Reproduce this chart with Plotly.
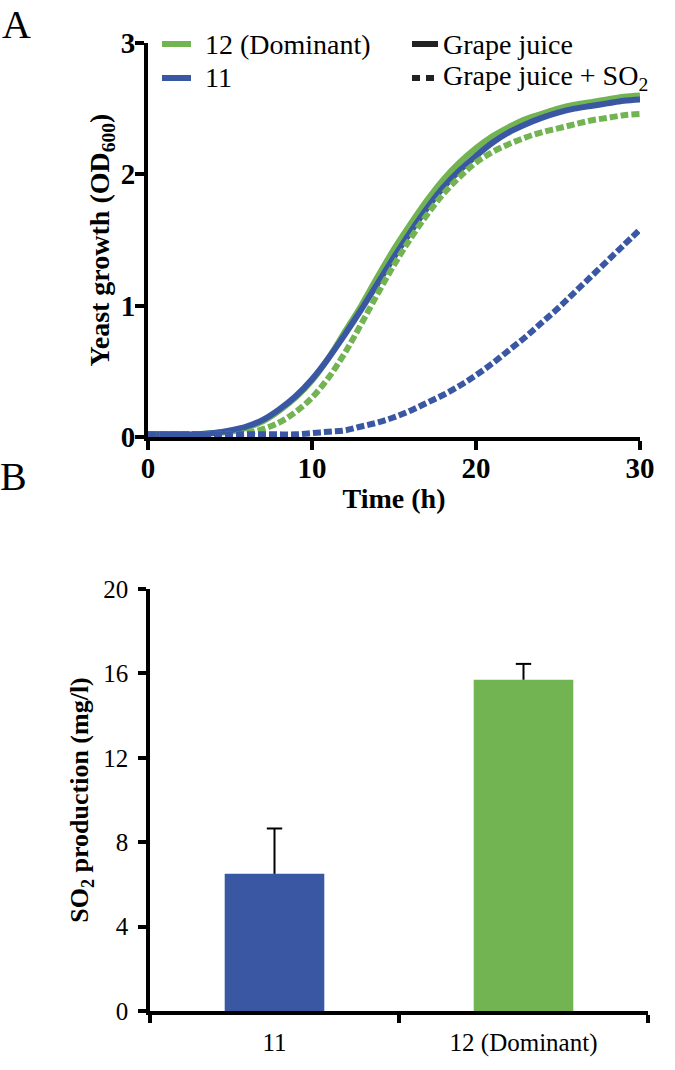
import plotly.graph_objects as go

# ---------------- data ----------------
time_h = list(range(0, 31))
od_12_gj = [0.02, 0.02, 0.02, 0.02, 0.03, 0.04, 0.07, 0.12, 0.20, 0.30, 0.43, 0.60, 0.80, 1.00, 1.22, 1.43,
            1.62, 1.80, 1.96, 2.09, 2.20, 2.29, 2.36, 2.42, 2.46, 2.50, 2.53, 2.55, 2.57, 2.59, 2.60]
od_11_gj = [0.02, 0.02, 0.02, 0.02, 0.03, 0.05, 0.08, 0.13, 0.21, 0.31, 0.44, 0.60, 0.78, 0.97, 1.17, 1.37,
            1.56, 1.74, 1.90, 2.03, 2.14, 2.24, 2.32, 2.38, 2.43, 2.47, 2.50, 2.52, 2.54, 2.56, 2.57]
od_12_so2 = [0.02, 0.02, 0.02, 0.02, 0.02, 0.02, 0.03, 0.06, 0.11, 0.19, 0.30, 0.45, 0.64, 0.86, 1.09, 1.31,
             1.51, 1.69, 1.85, 1.98, 2.09, 2.17, 2.23, 2.28, 2.32, 2.35, 2.38, 2.41, 2.43, 2.45, 2.46]
od_11_so2 = [0.02, 0.02, 0.02, 0.02, 0.02, 0.02, 0.02, 0.02, 0.02, 0.02, 0.03, 0.04, 0.05, 0.08, 0.11, 0.15,
             0.20, 0.26, 0.32, 0.39, 0.47, 0.56, 0.66, 0.76, 0.87, 0.98, 1.10, 1.22, 1.34, 1.46, 1.58]

strains = ["11", "12 (Dominant)"]
so2_mg_l = [6.5, 15.7]
so2_err = [2.15, 0.75]

xticks_a = [0, 10, 20, 30]
yticks_a = [0, 1, 2, 3]
yticks_b = [0, 4, 8, 12, 16, 20]

strain_legend = ["12 (Dominant)", "11"]
medium_legend = ["Grape juice", "Grape juice + SO<sub>2</sub>"]

GREEN = "#72B352"
BLUE = "#3A57A4"
FONT = "Liberation Serif"
DASH = "8px,3px"
LW = 6

W, H = 675, 1070
def px(xp):
    return xp / W
def py(yp):
    return (H - yp) / H

fig = go.Figure()

# Panel A curves
fig.add_trace(go.Scatter(x=time_h, y=od_12_gj, mode="lines", line=dict(color=GREEN, width=LW, shape="spline"),
                         showlegend=False, xaxis="x", yaxis="y", cliponaxis=False))
fig.add_trace(go.Scatter(x=time_h, y=od_11_gj, mode="lines", line=dict(color=BLUE, width=LW, shape="spline"),
                         showlegend=False, xaxis="x", yaxis="y", cliponaxis=False))
fig.add_trace(go.Scatter(x=time_h, y=od_12_so2, mode="lines",
                         line=dict(color=GREEN, width=LW, dash=DASH, shape="spline"),
                         showlegend=False, xaxis="x", yaxis="y", cliponaxis=False))
fig.add_trace(go.Scatter(x=time_h, y=od_11_so2, mode="lines",
                         line=dict(color=BLUE, width=LW, dash=DASH, shape="spline"),
                         showlegend=False, xaxis="x", yaxis="y", cliponaxis=False))

# Panel B bars
fig.add_trace(go.Bar(x=strains, y=so2_mg_l, marker=dict(color=[BLUE, GREEN], line=dict(width=0)),
                     width=0.4, showlegend=False, xaxis="x2", yaxis="y2"))
# upper error bars (stem + top cap only)
stem_x, stem_y = [], []
for s, v, e in zip(strains, so2_mg_l, so2_err):
    stem_x += [s, s, None]
    stem_y += [v, v + e, None]
fig.add_trace(go.Scatter(x=stem_x, y=stem_y, mode="lines", line=dict(color="black", width=2),
                         showlegend=False, xaxis="x2", yaxis="y2", hoverinfo="skip"))
fig.add_trace(go.Scatter(x=strains, y=[v + e for v, e in zip(so2_mg_l, so2_err)], mode="markers",
                         marker=dict(symbol="line-ew", size=11, line=dict(color="black", width=2)),
                         showlegend=False, xaxis="x2", yaxis="y2", hoverinfo="skip"))

# legend drawn as shapes + text
leg_rows = [44, 78]
shapes = []
annotations = []
for i, (txt, col) in enumerate(zip(strain_legend, [GREEN, BLUE])):
    shapes.append(dict(type="line", xref="paper", yref="paper", x0=px(162), x1=px(191),
                       y0=py(leg_rows[i]), y1=py(leg_rows[i]), line=dict(color=col, width=LW)))
    annotations.append(dict(text=txt, x=px(203), y=py(leg_rows[i]), xref="paper", yref="paper",
                            xanchor="left", yanchor="middle", showarrow=False,
                            font=dict(family=FONT, size=28, color="black")))
for i, (txt, dash) in enumerate(zip(medium_legend, ["solid", "8px,6px"])):
    shapes.append(dict(type="line", xref="paper", yref="paper", x0=px(412), x1=px(436 if i else 438),
                       y0=py(leg_rows[i]), y1=py(leg_rows[i]), line=dict(color="#222222", width=LW, dash=dash)))
    annotations.append(dict(text=txt, x=px(441), y=py(leg_rows[i]), xref="paper", yref="paper",
                            xanchor="left", yanchor="middle", showarrow=False,
                            font=dict(family=FONT, size=28, color="black")))

annotations += [
    dict(text="A", x=px(0), y=py(25), xref="paper", yref="paper", xanchor="left", yanchor="middle",
         showarrow=False, font=dict(family=FONT, size=40, color="black")),
    dict(text="B", x=px(-2), y=py(476), xref="paper", yref="paper", xanchor="left", yanchor="middle",
         showarrow=False, font=dict(family=FONT, size=40, color="black")),
]

fig.update_layout(
    width=W, height=H,
    margin=dict(l=0, r=0, t=0, b=0),
    paper_bgcolor="white", plot_bgcolor="white",
    font=dict(family=FONT, color="black"),
    shapes=shapes,
    annotations=annotations,
    xaxis=dict(domain=[px(148), px(640)], anchor="y", range=[0, 30], tickvals=xticks_a, automargin=False,
               showgrid=False, zeroline=False, showline=True, linecolor="black", linewidth=4,
               ticks="outside", ticklen=9, tickwidth=4, tickcolor="black", ticklabelstandoff=-7,
               tickfont=dict(family=FONT, size=29, color="black", weight="bold"),
               title=dict(text="<b>Time (h)</b>", font=dict(family=FONT, size=28), standoff=7)),
    yaxis=dict(domain=[py(437), py(43)], anchor="x", range=[0, 3], tickvals=yticks_a, automargin=False,
               showgrid=False, zeroline=False, showline=True, linecolor="black", linewidth=4,
               ticks="outside", ticklen=9, tickwidth=4, tickcolor="black", ticklabelstandoff=-6,
               tickfont=dict(family=FONT, size=29, color="black", weight="bold"),
               title=dict(text="<b>Yeast growth (OD<sub>600</sub>)</b>", font=dict(family=FONT, size=28),
                          standoff=4)),
    xaxis2=dict(domain=[px(150), px(648)], anchor="y2", range=[-0.5, 1.5], type="category", automargin=False,
                showgrid=False, zeroline=False, showline=True, linecolor="black", linewidth=3.5,
                ticks="outside", ticklen=8, tickwidth=3.5, tickcolor="black", tickson="boundaries",
                ticklabelstandoff=6,
                tickfont=dict(family=FONT, size=25, color="black")),
    yaxis2=dict(domain=[py(1011), py(589)], anchor="x2", range=[0, 20], tickvals=yticks_b, automargin=False,
                showgrid=False, zeroline=False, showline=True, linecolor="black", linewidth=3.5,
                ticks="outside", ticklen=8, tickwidth=3.5, tickcolor="black", ticklabelstandoff=5,
                tickfont=dict(family=FONT, size=25, color="black"),
                title=dict(text="<b>SO<sub>2</sub> production (mg/l)</b>", font=dict(family=FONT, size=26),
                           standoff=8)),
)

fig.write_html("out.html", config={"displayModeBar": False},
               post_script="document.body.style.margin='0px';")
